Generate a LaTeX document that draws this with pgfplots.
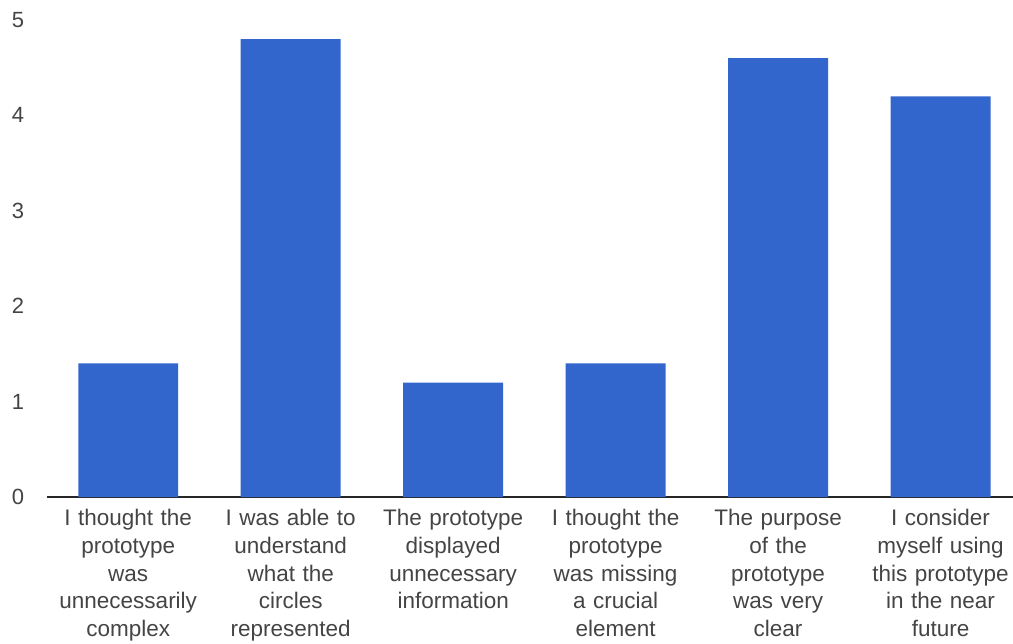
\documentclass[border=0pt]{standalone}
\usepackage{fontspec}
\setmainfont{Liberation Sans}
\usepackage{pgfplots}
\pgfplotsset{compat=1.18}
\definecolor{barblue}{HTML}{3366CC}
\definecolor{txt}{HTML}{444444}
\begin{document}
\begin{tikzpicture}
\begin{axis}[
  scale only axis,
  width=966pt, height=477pt,
  xmin=-0.5, xmax=5.446,
  ymin=0, ymax=5,
  ybar, bar width=0.615,
  axis lines*=left,
  y axis line style={draw=none},
  x axis line style={draw=black!85, line width=1.3pt},
  major tick length=0pt,
  tick style={draw=none},
  ytick={0,1,2,3,4,5},
  xtick={0,1,2,3,4,5},
  /pgf/number format/assume math mode=true,
  yticklabel style={font=\fontsize{22}{26}\selectfont, text=txt, anchor=center, xshift=-29pt},
  xticklabel style={font=\fontsize{22.5}{27.7}\selectfont, text=txt, align=center, text width=165pt, anchor=north, yshift=-9pt},
  xticklabels={
    {I thought the\\prototype\\was\\unnecessarily\\complex},
    {I was able to\\understand\\what the\\circles\\represented},
    {The prototype\\displayed\\unnecessary\\information},
    {I thought the\\prototype\\was missing\\a crucial\\element},
    {The purpose\\of the\\prototype\\was very\\clear},
    {I consider\\myself using\\this prototype\\in the near\\future}
  },
  clip=false,
]
\addplot[fill=barblue, draw=none] coordinates {(0,1.4) (1,4.8) (2,1.2) (3,1.4) (4,4.6) (5,4.2)};
\end{axis}
\pgfresetboundingbox
\path[use as bounding box] ([xshift=-47pt,yshift=-147pt]current axis.south west) rectangle ([yshift=20pt]current axis.north east);
\end{tikzpicture}
\end{document}
